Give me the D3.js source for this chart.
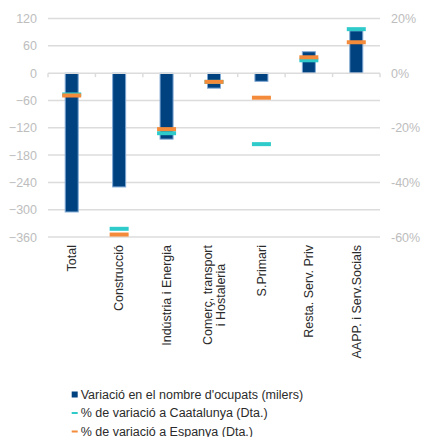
<!DOCTYPE html>
<html>
<head>
<meta charset="utf-8">
<script src="https://cdn.jsdelivr.net/npm/d3@7"></script>
<style>
  html, body { margin: 0; padding: 0; background: #fff; }
  svg { display: block; font-family: "Liberation Sans", Arial, sans-serif; }
</style>
</head>
<body>
<svg id="chart" width="421" height="437"></svg>
<script>
// Sectors (label lines separated by "\n")
const categories = [
  "Total",
  "Construcció",
  "Indústria i Energia",
  "Comerç, transport\ni Hostaleria",
  "S.Primari",
  "Resta. Serv. Priv",
  "AAPP. i Serv.Socials"
];
// Change in number of employed people (thousands) – left axis
const ocupats = [-305, -250, -145, -33, -18, 47, 93];
// % change, right axis
const pctCatalunya = [-7.8, -57, -22, -3.2, -26, 4.7, 16.1];
const pctEspanya = [-8.2, -59.1, -20.5, -3.2, -9, 5.8, 11.3];
// Axis ticks
const leftTicks = [120, 60, 0, -60, -120, -180, -240, -300, -360];
const rightTicks = [20, 0, -20, -40, -60];
const legendLabels = [
  "Variació en el nombre d'ocupats (milers)",
  "% de variació a Caatalunya (Dta.)",
  "% de variació a Espanya (Dta.)"
];

const C_BAR = "#00427f", C_BAR_EDGE = "#7da7d4", C_CAT = "#2fcaca", C_ESP = "#f48b3b";
const C_GRID = "#dcdcdc", C_TICK = "#bdbdbd", C_TEXT = "#2b2b2b";

const svg = d3.select("#chart");
const L = 48, R = 380, T = 18.5, B = 237;

const x = d3.scaleBand().domain(categories).range([L, R]).padding(0);
const yL = d3.scaleLinear().domain([-360, 120]).range([B, T]);
const yR = d3.scaleLinear().domain([-60, 20]).range([B, T]);

// Gridlines
svg.append("g").selectAll("line")
  .data(leftTicks.filter(d => d !== 0))
  .join("line")
  .attr("x1", L).attr("x2", R)
  .attr("y1", d => yL(d)).attr("y2", d => yL(d))
  .attr("stroke", C_GRID).attr("stroke-width", 1.5);

// Left axis labels
const axL = d3.axisLeft(yL).tickValues(leftTicks).tickSize(0).tickPadding(0);
const gL = svg.append("g").attr("transform", `translate(${L - 11},0)`).call(axL);
gL.select(".domain").remove();
gL.selectAll("text").attr("fill", C_TICK).style("font-size", "12.5px")
  .style("font-family", "'Liberation Sans', Arial, sans-serif");

// Right axis labels
const axR = d3.axisRight(yR).tickValues(rightTicks).tickSize(0).tickPadding(0)
  .tickFormat(d => d + "%");
const gR = svg.append("g").attr("transform", `translate(${R + 11},0)`).call(axR);
gR.select(".domain").remove();
gR.selectAll("text").attr("fill", C_TICK).style("font-size", "12.5px")
  .style("font-family", "'Liberation Sans', Arial, sans-serif");

// Bars
svg.append("g").selectAll("rect")
  .data(ocupats)
  .join("rect")
  .attr("x", (d, i) => x(categories[i]) + x.bandwidth() / 2 - 6.5)
  .attr("width", 13)
  .attr("y", d => yL(Math.max(0, d)))
  .attr("height", d => Math.abs(yL(d) - yL(0)))
  .attr("fill", C_BAR)
  .attr("stroke", C_BAR_EDGE).attr("stroke-width", 1);

// Zero axis line with category ticks
const zero = yL(0);
svg.append("line").attr("x1", L).attr("x2", R).attr("y1", zero).attr("y2", zero)
  .attr("stroke", C_GRID).attr("stroke-width", 1.5);
svg.append("g").selectAll("line")
  .data(d3.range(categories.length + 1))
  .join("line")
  .attr("x1", i => L + i * x.step()).attr("x2", i => L + i * x.step())
  .attr("y1", zero).attr("y2", zero + 4)
  .attr("stroke", C_GRID).attr("stroke-width", 1.5);

// Percentage markers (Catalunya under Espanya)
function markers(values, color) {
  svg.append("g").selectAll("rect")
    .data(values)
    .join("rect")
    .attr("x", (d, i) => x(categories[i]) + x.bandwidth() / 2 - 9.5)
    .attr("width", 19)
    .attr("y", d => yR(d) - 2)
    .attr("height", 4)
    .attr("fill", color);
}
markers(pctCatalunya, C_CAT);
markers(pctEspanya, C_ESP);

// Category labels, rotated, multi-line centred on each other
const labTop = 245, lineH = 13;
categories.forEach((c, i) => {
  const lines = c.split("\n");
  const cx = x(c) + x.bandwidth() / 2;
  const g = svg.append("g");
  const texts = lines.map((ln, j) => g.append("text")
    .text(ln)
    .attr("fill", C_TEXT)
    .style("font-size", "12.5px"));
  const maxW = d3.max(texts, t => t.node().getComputedTextLength());
  const n = lines.length;
  texts.forEach((t, j) => {
    const off = (j - (n - 1) / 2) * lineH + 4.3;
    t.attr("text-anchor", "middle")
      .attr("transform", `translate(${cx + off},${labTop + maxW / 2}) rotate(-90)`);
  });
});

// Legend
const legX = 71.7, legY = [394.5, 413, 431.5];
const lg = svg.append("g");
lg.append("rect").attr("x", legX).attr("y", legY[0] - 3).attr("width", 6).attr("height", 6).attr("fill", C_BAR);
lg.append("rect").attr("x", legX).attr("y", legY[1] - 1).attr("width", 6).attr("height", 2).attr("fill", C_CAT);
lg.append("rect").attr("x", legX).attr("y", legY[2] - 1).attr("width", 6).attr("height", 2).attr("fill", C_ESP);
lg.selectAll("text")
  .data(legendLabels)
  .join("text")
  .attr("x", legX + 9)
  .attr("y", (d, i) => legY[i] + 4.3)
  .attr("fill", C_TEXT)
  .style("font-size", "12.5px")
  .text(d => d);
</script>
</body>
</html>
